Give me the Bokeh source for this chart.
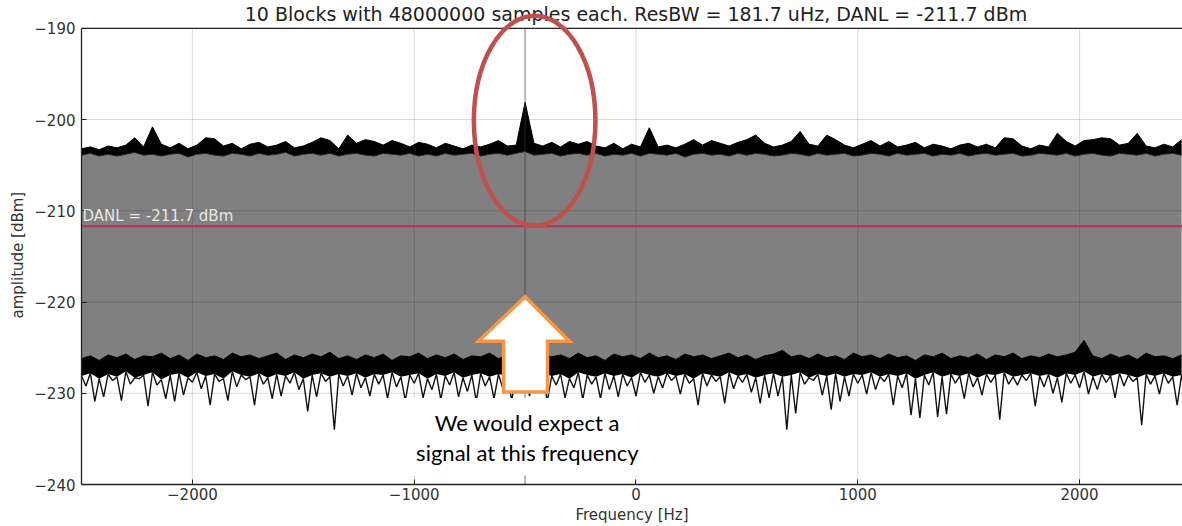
import numpy as np
from bokeh.plotting import figure
from bokeh.models import Span, Label, Title, FixedTicker, CustomJSTickFormatter
from bokeh.embed import file_html
from bokeh.resources import INLINE

# ---------------- data ----------------
bin_start_hz = -2500
bin_width_hz = 40

# max-hold trace: top and bottom of its noisy band
upper_max = [
    -203.2, -203.0, -203.3, -202.9, -203.1, -202.8, -202.0, -203.0, -200.8, -202.7,
    -203.1, -202.6, -203.2, -202.8, -202.0, -202.1, -202.9, -202.6, -203.2, -202.7,
    -202.5, -203.0, -202.8, -202.4, -203.1, -202.9, -202.5, -202.0, -202.3, -203.2,
    -201.7, -202.6, -202.2, -202.4, -202.8, -202.3, -202.6, -203.0, -202.5, -202.7,
    -203.1, -202.6, -202.9, -203.2, -202.8, -203.0, -202.7, -202.3, -202.9, -202.8,
    -198.1, -202.6, -202.9, -202.5, -203.0, -202.4, -202.7, -202.4, -202.9, -203.1,
    -202.6, -203.2, -202.7, -203.0, -200.9, -203.0, -202.8, -203.1, -202.7, -202.2,
    -202.8, -202.3, -202.6, -202.9, -202.5, -202.2, -201.7, -202.6, -203.0, -202.8,
    -202.4, -201.3, -202.7, -202.9, -201.7, -202.2, -202.8, -203.1, -202.7, -202.3,
    -202.9, -202.4, -203.0, -202.8, -202.5, -203.1, -202.7, -202.9, -203.2, -202.8,
    -202.6, -203.0, -202.7, -203.1, -202.0, -202.1, -202.9, -203.2, -202.8, -203.0,
    -201.5, -202.4, -202.9, -202.3, -202.2, -202.0, -202.1, -202.8, -202.6, -201.5,
    -202.9, -203.1, -202.7, -203.0, -202.2,
]
upper_min = [
    -203.9, -203.7, -204.0, -203.8, -204.0, -203.8, -203.6, -203.9, -203.8, -204.0,
    -203.8, -203.7, -204.1, -203.8, -203.7, -203.9, -204.0, -203.7, -203.8, -204.0,
    -203.7, -203.9, -203.8, -203.6, -204.0, -203.8, -203.7, -203.9, -203.7, -204.0,
    -203.8, -203.7, -203.9, -204.0, -203.7, -203.8, -203.9, -203.7, -204.0, -203.8,
    -204.0, -203.7, -203.9, -203.8, -203.7, -204.0, -203.8, -203.7, -203.9, -203.7,
    -203.5, -203.9, -203.8, -203.7, -204.0, -203.8, -203.7, -203.9, -203.7, -204.0,
    -203.8, -203.9, -203.7, -204.0, -203.7, -203.8, -203.9, -203.7, -204.1, -203.8,
    -203.7, -203.9, -203.8, -204.0, -203.7, -203.9, -203.7, -203.8, -204.0, -203.9,
    -203.7, -203.8, -204.0, -203.7, -203.9, -203.8, -203.7, -204.0, -203.9, -203.7,
    -203.8, -204.0, -203.7, -203.9, -203.8, -203.7, -204.0, -203.8, -203.9, -203.7,
    -204.0, -203.8, -203.7, -203.9, -203.8, -203.7, -204.0, -203.9, -203.7, -203.8,
    -203.9, -203.7, -204.0, -203.8, -203.7, -203.9, -204.0, -203.7, -203.8, -203.9,
    -203.7, -204.0, -203.8, -203.7, -203.9,
]
# min-hold trace: top of its band, bottom of the dense core, tips of the dips
lower_max = [
    -226.2, -225.9, -226.4, -225.8, -226.1, -225.7, -226.3, -225.9, -226.0, -225.6,
    -226.2, -225.8, -226.4, -225.7, -226.1, -225.9, -226.3, -225.6, -226.0, -225.8,
    -226.2, -225.9, -225.6, -226.3, -225.8, -226.1, -225.7, -226.0, -225.5, -226.2,
    -225.9, -226.3, -225.8, -226.1, -225.7, -226.4, -225.9, -226.0, -225.6, -226.2,
    -225.8, -226.1, -225.7, -226.3, -225.9, -226.0, -225.6, -226.2, -225.8, -226.1,
    -225.9, -226.3, -225.7, -226.0, -225.8, -226.2, -225.6, -226.1, -225.9, -226.4,
    -225.7, -226.0, -225.8, -226.2, -225.6, -226.1, -225.9, -226.3, -225.7, -226.0,
    -225.8, -226.2, -225.9, -225.6, -226.1, -225.8, -226.3, -225.9, -225.7, -225.3,
    -226.0, -225.8, -226.2, -225.7, -226.1, -225.9, -226.3, -225.6, -226.0, -225.8,
    -226.2, -225.7, -226.1, -225.9, -226.4, -225.8, -226.0, -225.6, -226.2, -225.9,
    -226.1, -225.7, -226.3, -225.8, -226.0, -225.6, -226.2, -225.9, -226.1, -225.7,
    -226.0, -225.8, -225.5, -224.2, -225.9, -226.2, -225.7, -226.1, -225.8, -226.3,
    -225.6, -226.0, -225.9, -226.2, -225.8,
]
lower_core = [
    -228.1, -227.8, -228.4, -227.9, -228.2, -227.6, -228.3, -228.0, -227.7, -228.5,
    -228.0, -227.8, -228.3, -227.7, -228.1, -227.9, -228.4, -227.6, -228.0, -228.2,
    -227.8, -228.3, -227.9, -228.1, -227.7, -228.4, -228.0, -227.8, -228.2, -227.9,
    -228.1, -227.8, -228.3, -227.9, -228.0, -227.7, -228.2, -228.0, -227.8, -228.4,
    -227.9, -228.1, -227.7, -228.3, -228.0, -227.8, -228.2, -227.9, -228.1, -227.7,
    -228.0, -228.3, -227.8, -228.1, -227.9, -228.4, -227.7, -228.0, -228.2, -227.8,
    -228.1, -227.9, -228.3, -227.7, -228.0, -228.2, -227.8, -228.1, -227.9, -228.4,
    -227.8, -228.0, -228.2, -227.7, -228.1, -227.9, -228.3, -228.0, -227.8, -228.2,
    -228.0, -227.7, -228.3, -227.9, -228.1, -227.8, -228.2, -227.9, -228.0, -227.7,
    -228.2, -227.9, -228.1, -227.8, -228.4, -228.0, -227.7, -228.2, -227.9, -228.1,
    -227.8, -228.3, -227.9, -228.0, -227.7, -228.2, -228.0, -227.8, -228.1, -227.9,
    -228.3, -227.8, -228.0, -227.6, -228.2, -227.9, -228.1, -227.8, -228.0, -228.3,
    -227.9, -228.1, -227.8, -228.2, -228.0,
]
lower_min = [
    -229.2, -230.9, -230.4, -228.6, -230.8, -229.0, -228.4, -231.4, -229.1, -230.6,
    -230.9, -230.2, -228.8, -229.5, -231.3, -228.7, -230.8, -229.3, -228.5, -231.3,
    -229.0, -230.6, -230.3, -228.9, -229.6, -232.0, -230.4, -228.7, -234.0, -229.2,
    -230.2, -229.4, -230.3, -229.0, -230.6, -229.3, -230.8, -228.9, -230.5, -229.6,
    -230.7, -229.1, -230.4, -229.8, -230.9, -229.2, -230.6, -229.5, -230.8, -229.0,
    -230.3, -229.7, -230.9, -229.1, -230.5, -229.4, -230.7, -229.0, -230.6, -229.6,
    -230.4, -229.2, -230.3, -228.8, -230.0, -229.4, -228.6, -230.1, -228.9, -231.3,
    -229.2, -228.7, -231.1, -229.5, -228.8, -229.9, -231.1, -230.5, -230.3, -234.0,
    -232.2, -229.0, -228.6, -230.2, -231.8, -230.9, -230.3, -228.9, -230.1, -229.6,
    -228.7, -231.3, -229.4, -232.4, -232.7, -229.1, -232.6, -232.3, -228.9, -230.6,
    -229.3, -230.2, -228.8, -232.9, -229.0, -229.1, -228.6, -231.4, -229.3, -230.0,
    -231.0, -228.9, -229.4, -230.1, -229.6, -228.8, -230.5, -229.2, -228.7, -233.5,
    -229.0, -230.1, -228.9, -231.3, -230.5,
]

danl_dbm = -211.7
expected_hz = -500
x_ticks = [-2000, -1000, 0, 1000, 2000]
y_ticks = [-240, -230, -220, -210, -200, -190]
x_limits = (-2500, 2464)
y_limits = (-240, -190)

title_text = "10 Blocks with 48000000 samples each. ResBW = 181.7 uHz, DANL = -211.7 dBm"
danl_text = "DANL = -211.7 dBm"
x_label = "Frequency [Hz]"
y_label = "amplitude [dBm]"
note_lines = ["We would expect a", "signal at this frequency"]

# ---------------- build ----------------
n = min(len(upper_max), len(upper_min), len(lower_max), len(lower_core), len(lower_min))
freq = bin_start_hz + bin_width_hz * np.arange(n)
up_hi = np.array(upper_max[:n])
up_lo = np.array(upper_min[:n])
lo_hi = np.array(lower_max[:n])
lo_core = np.array(lower_core[:n])
lo_lo = np.array(lower_min[:n])
xz = np.column_stack([freq, freq + bin_width_hz / 2]).ravel()
dips = np.column_stack([lo_core, lo_lo]).ravel()

p = figure(width=1182, height=526, output_backend="svg", toolbar_location=None,
           x_range=x_limits, y_range=(y_limits[0], -186.95),
           min_border_left=81, min_border_right=0, min_border_top=0,
           min_border_bottom=39)
p.outline_line_color = None
p.background_fill_color = "white"
p.border_fill_color = "white"
p.xgrid.visible = False
p.ygrid.visible = False

minus_fmt = CustomJSTickFormatter(code="return (tick < 0 ? '\\u2212' : '') + Math.abs(tick).toFixed(0);")

for ax, ticks in ((p.xaxis[0], x_ticks), (p.yaxis[0], y_ticks)):
    ax.ticker = FixedTicker(ticks=ticks)
    ax.formatter = minus_fmt
    ax.minor_tick_line_color = None
    ax.major_tick_in = 5
    ax.major_tick_out = 0
    ax.axis_line_color = "#222222"
    ax.axis_line_width = 1.3
    ax.major_tick_line_color = "#222222"
    ax.major_label_text_font = "DejaVu Sans"
    ax.major_label_text_font_size = "15px"
    ax.major_label_text_color = "#333333"
    ax.axis_label_text_font = "DejaVu Sans"
    ax.axis_label_text_font_size = "15px"
    ax.axis_label_text_font_style = "normal"
    ax.axis_label_text_color = "#333333"

p.yaxis.bounds = y_limits
p.xaxis.axis_label = x_label
p.yaxis.major_label_standoff = 6
p.xaxis.major_label_standoff = 3
p.xaxis.axis_label_standoff = 3

# y axis label as a side title so it can be centred on the -240..-190 span
p.add_layout(Title(text=y_label, align="left", offset=166, standoff=9,
                   text_font="DejaVu Sans", text_font_size="15px", text_font_style="normal",
                   text_color="#333333"), "left")

# filled spread between max-hold and min-hold
p.varea(x=freq, y1=lo_hi, y2=up_lo, fill_color="#808080")
# max-hold band
p.varea(x=freq, y1=up_lo, y2=up_hi, fill_color="black")
p.line(freq, up_hi, line_color="black", line_width=1.0)
p.line(freq, up_lo, line_color="#202020", line_width=1.0)
# min-hold band and dips
p.varea(x=freq, y1=lo_core, y2=lo_hi, fill_color="black")
p.line(freq, lo_hi, line_color="black", line_width=1.0)
p.line(xz, dips, line_color="#111111", line_width=1.4)

# grid
p.segment(x0=x_ticks, x1=x_ticks, y0=[y_limits[0]] * len(x_ticks), y1=[y_limits[1]] * len(x_ticks),
          line_color="black", line_alpha=0.15, line_width=1)
p.segment(x0=[x_limits[0]] * len(y_ticks), x1=[x_limits[1]] * len(y_ticks), y0=y_ticks, y1=y_ticks,
          line_color="black", line_alpha=0.15, line_width=1)

# expected frequency marker line
p.segment(x0=[expected_hz], x1=[expected_hz], y0=[y_limits[0]], y1=[y_limits[1]],
          line_color="#333333", line_alpha=0.35, line_width=2)

# DANL line
p.segment(x0=[x_limits[0]], x1=[x_limits[1]], y0=[danl_dbm], y1=[danl_dbm],
          line_color="#c06080", line_alpha=0.25, line_width=6)
p.segment(x0=[x_limits[0]], x1=[x_limits[1]], y0=[danl_dbm], y1=[danl_dbm],
          line_color="#9c3f5c", line_width=2)

# white box behind the note
p.quad(left=[-1310], right=[7], bottom=[-239.02], top=[-230.52],
       fill_color="white", line_color=None)

# orange arrow
ax_x = [-500, -300, -399, -399, -597, -597, -710]
ax_y = [-219.41, -224.31, -224.31, -229.87, -229.87, -224.31, -224.31]
p.patch(ax_x, ax_y, fill_color="white", line_color="#F79646", line_width=3.5, line_join="miter")

# frame top
p.add_layout(Span(location=y_limits[1], dimension="width", line_color="#222222", line_width=1.3))

# labels
p.add_layout(Label(x=0, y=-188.47, text=title_text, text_align="center", text_baseline="middle",
                   text_font="DejaVu Sans", text_font_size="19px", text_color="#222222"))
p.add_layout(Label(x=x_limits[0], y=danl_dbm, x_offset=1, y_offset=1, text=danl_text,
                   text_align="left", text_baseline="bottom",
                   text_font="DejaVu Sans", text_font_size="15px", text_color="#e6e6e6"))
p.add_layout(Label(x=-490, y=-233.24, text=note_lines[0], text_align="center", text_baseline="middle",
                   text_font="Lato", text_font_size="22px", text_color="black"))
p.add_layout(Label(x=-490, y=-236.51, text=note_lines[1], text_align="center", text_baseline="middle",
                   text_font="Lato", text_font_size="22px", text_color="black"))

# red ellipse
r = p.ellipse(x=[-457], y=[-200.13], width=[548], height=[23.04],
              fill_color=None, line_color="#C0504D", line_width=4.5)
r.level = "overlay"

open("out.html", "w").write(file_html(p, INLINE))
